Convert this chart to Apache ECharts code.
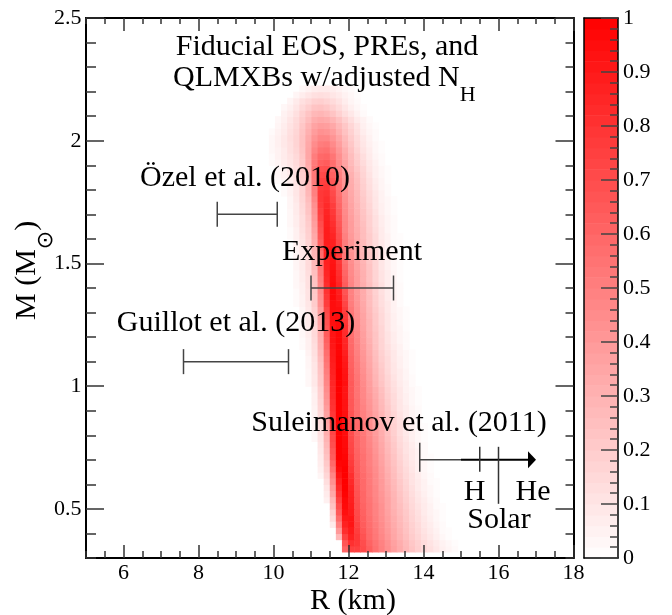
<!DOCTYPE html>
<html>
<head>
<meta charset="utf-8">
<script src="https://cdn.jsdelivr.net/npm/echarts@6.0.0/dist/echarts.min.js"></script>
<style>
  html, body { margin: 0; padding: 0; background: #fff; }
  #chart { width: 672px; height: 615px; }
</style>
</head>
<body>
<div id="chart"></div>
<script>
// Mass-radius posterior density on a regular (R, M) grid.
const rOrigin = 5.0;      // km, left edge of radius column 0
const rStep = 0.1625;     // km per radius column
const mOrigin = 0.3;      // Msun, bottom edge of mass row 0
const mStep = 0.025;      // Msun per mass row

// Each entry: [mass row, first radius column, densities in percent]
const densityRows = [
  [1, 42, [60,75,75,71,63,56,50,44,38,33,28,23,19,15,12,9,6,4,2]],
  [2, 42, [66,81,78,70,61,55,49,43,37,32,27,22,18,14,11,8,5,3,1]],
  [3, 41, [28,74,87,78,68,59,53,47,41,35,30,25,20,16,12,9,6,3,1]],
  [4, 41, [40,82,90,76,66,58,52,46,40,34,29,24,19,15,11,8,5,2,1]],
  [5, 40, [8,50,87,92,74,64,57,51,45,39,33,28,23,18,14,10,7,4,2]],
  [6, 40, [14,58,91,92,72,63,56,50,44,38,32,27,22,17,13,9,6,3,1]],
  [7, 40, [18,65,94,90,71,62,55,49,43,37,31,26,21,16,12,8,5,3,1]],
  [8, 40, [24,70,96,89,70,61,55,49,43,36,30,25,20,15,11,8,5,2,1]],
  [9, 39, [6,28,75,97,88,69,60,54,48,42,36,30,24,19,14,10,7,4,2]],
  [10, 39, [8,34,80,99,87,68,60,53,47,41,35,29,23,18,13,9,6,3,1]],
  [11, 39, [10,38,84,100,86,67,59,53,47,40,34,28,22,17,12,8,5,3,1]],
  [12, 39, [13,43,88,100,84,66,59,52,46,40,33,27,21,16,11,8,5,2,1]],
  [13, 38, [4,16,48,92,100,82,65,58,52,46,39,32,26,20,15,11,7,4,2]],
  [14, 38, [6,19,54,96,100,79,64,57,51,45,38,31,25,19,14,10,6,3,1]],
  [15, 38, [7,21,59,98,99,77,63,56,50,44,37,30,24,18,13,9,6,3,1]],
  [16, 38, [8,24,64,100,98,75,62,56,50,43,36,29,23,17,12,8,5,2,1]],
  [17, 38, [9,26,66,100,97,73,61,55,49,42,35,28,22,16,11,8,5,2]],
  [18, 38, [10,28,69,100,96,72,60,54,48,41,34,27,21,15,11,7,4,2]],
  [19, 37, [3,11,30,71,100,96,71,60,54,47,40,33,26,20,14,10,6,3,1]],
  [20, 37, [3,12,32,73,100,95,70,59,53,46,39,32,25,19,13,9,6,3,1]],
  [21, 37, [4,13,34,75,100,95,69,59,52,45,38,31,24,18,13,8,5,2,1]],
  [22, 37, [4,14,36,77,100,94,68,58,51,44,37,30,23,17,12,8,5,2]],
  [23, 37, [5,15,37,78,100,94,67,57,50,43,36,29,22,16,11,7,4,2]],
  [24, 37, [5,16,39,80,100,93,66,56,49,42,35,28,21,15,10,7,4,2]],
  [25, 37, [6,17,41,81,100,93,66,56,48,41,34,27,20,14,10,6,3,1]],
  [26, 37, [6,18,43,83,100,92,65,55,47,40,33,26,19,14,9,6,3,1]],
  [27, 37, [7,19,45,84,100,92,65,55,47,39,32,25,18,13,9,5,3,1]],
  [28, 36, [3,9,21,47,85,100,94,65,55,46,38,30,23,17,12,8,5,2]],
  [29, 36, [3,9,22,49,86,100,93,64,54,45,37,29,22,16,11,7,4,2]],
  [30, 36, [3,10,23,51,87,100,92,63,53,44,36,28,21,15,10,7,4,1]],
  [31, 36, [4,10,24,53,88,99,91,62,52,43,35,27,20,14,10,6,3,1]],
  [32, 36, [4,11,26,55,89,99,90,61,51,42,34,26,19,14,9,6,3,1]],
  [33, 36, [5,12,28,57,90,98,88,60,50,41,33,25,18,13,9,5,3,1]],
  [34, 35, [2,6,13,30,60,91,98,86,59,49,40,32,24,17,12,8,5,2]],
  [35, 35, [2,6,14,31,62,92,97,85,58,48,39,31,23,17,11,7,4,2]],
  [36, 35, [3,7,15,32,64,92,97,83,57,47,38,30,23,16,11,7,4,2]],
  [37, 35, [3,7,15,33,66,93,96,82,56,46,37,29,22,16,10,6,4,1]],
  [38, 35, [3,8,16,35,68,94,96,80,55,45,36,29,21,15,10,6,3,1]],
  [39, 35, [4,8,17,36,70,94,95,78,54,44,36,28,21,15,10,6,3,1]],
  [40, 35, [4,9,18,38,72,95,94,76,53,43,35,27,20,14,9,5,3,1]],
  [41, 34, [2,5,10,20,42,76,95,92,73,51,42,34,26,19,13,9,5,2]],
  [42, 34, [2,5,11,21,44,78,96,90,70,50,41,33,26,19,13,8,5,2]],
  [43, 34, [2,6,11,22,46,80,96,88,67,49,40,33,25,18,12,8,4,2]],
  [44, 34, [3,6,12,23,48,82,96,86,64,48,39,32,25,18,12,7,4,2]],
  [45, 34, [3,7,12,24,50,84,95,84,62,47,39,31,24,17,11,7,4,1]],
  [46, 34, [3,7,13,25,52,85,94,82,60,46,38,31,24,17,11,7,4,1]],
  [47, 34, [4,8,14,27,54,87,93,80,58,45,37,30,23,16,10,6,3,1]],
  [48, 34, [4,8,14,28,56,88,92,78,56,44,36,29,22,16,10,6,3,1]],
  [49, 34, [4,9,15,29,58,88,91,76,54,43,35,29,22,15,10,6,3,1]],
  [50, 34, [5,9,16,30,60,89,90,74,52,42,35,28,21,15,9,5,3,1]],
  [51, 34, [5,10,17,32,63,89,88,72,51,41,34,27,20,14,9,5,2,1]],
  [52, 33, [2,6,11,18,34,66,89,86,70,50,40,33,26,20,14,8,5,2,1]],
  [53, 33, [2,6,12,19,36,68,89,84,68,48,39,32,26,19,13,8,4,2]],
  [54, 33, [3,7,13,20,38,70,88,82,66,48,39,31,25,18,12,7,4,2]],
  [55, 33, [3,7,13,21,40,73,87,80,64,47,38,31,24,18,12,7,4,2]],
  [56, 33, [3,8,14,23,42,75,86,78,62,46,37,30,23,17,11,6,3,1]],
  [57, 33, [4,8,15,24,44,77,84,76,60,45,36,29,22,16,10,6,3,1]],
  [58, 33, [4,9,16,26,47,78,82,73,58,44,35,28,21,15,10,5,3,1]],
  [59, 32, [2,5,10,17,28,50,78,80,71,56,43,34,27,20,14,9,5,2]],
  [60, 32, [2,5,10,17,29,51,76,78,68,54,42,33,26,19,13,8,4,2]],
  [61, 31, [2,4,7,11,18,30,52,74,75,65,52,41,32,25,18,12,7,4,1]],
  [62, 31, [3,5,8,12,19,31,53,71,72,62,50,40,31,24,17,11,6,3,1]],
  [63, 31, [3,5,9,13,20,32,54,68,69,59,48,38,29,22,16,10,6,3,1]],
  [64, 30, [2,4,7,10,14,21,34,52,62,64,57,46,36,27,20,14,9,5,2]],
  [65, 30, [2,5,8,11,15,22,35,51,59,60,54,44,34,26,19,13,8,4,2]],
  [66, 30, [3,5,8,12,16,23,35,48,55,56,50,41,32,24,17,11,7,3,1]],
  [67, 30, [3,6,9,12,17,24,34,45,51,52,46,38,29,22,15,10,6,3,1]],
  [68, 30, [3,6,9,13,17,24,33,42,47,47,42,35,27,20,14,9,5,2]],
  [69, 30, [2,5,8,12,16,23,31,39,43,42,38,31,24,18,12,7,4,2]],
  [70, 31, [4,7,11,15,22,29,36,39,38,34,28,22,16,11,6,3,1]],
  [71, 31, [3,6,10,14,20,26,32,34,33,29,24,18,13,8,5,2]],
  [72, 32, [5,8,12,18,23,28,29,27,23,18,13,9,5,2]],
  [73, 32, [3,6,10,15,19,23,24,22,18,14,10,6,3,1]],
  [74, 33, [4,8,12,15,18,19,17,14,11,7,4,2]],
  [75, 34, [4,7,10,12,13,12,10,8,5,3,1]],
  [76, 35, [3,5,7,8,8,7,5,3,2]]
];

// Radius intervals quoted from earlier analyses, at a fixed mass
const barLabels = ['Özel et al. (2010)', 'Experiment', 'Guillot et al. (2013)'];
const barRLow = [8.5, 11.0, 7.6];
const barRHigh = [10.1, 13.2, 10.4];
const barMass = [1.7, 1.4, 1.1];

// Suleimanov et al. (2011) lower limit with atmosphere markers
const sulRLow = 13.9;
const sulRSplit = 15.0;
const sulRArrow = 17.0;
const sulMass = 0.7;
const sulMarkers = [15.5, 16.0];   // H, Solar

// Axis ticks and labels
const rMajorTicks = [6, 8, 10, 12, 14, 16, 18];
const mMajorTicks = [0.5, 1, 1.5, 2, 2.5];
const colorbarTicks = [0, 0.1, 0.2, 0.3, 0.4, 0.5, 0.6, 0.7, 0.8, 0.9, 1];
const colorbarSteps = 50;

const serif = '"Liberation Serif", serif';
const labelFont = '22px ' + serif;

const heatData = [];
densityRows.forEach(([row, col0, vals]) => {
  vals.forEach((p, k) => {
    heatData.push([rOrigin + (col0 + k) * rStep, mOrigin + row * mStep, p / 100]);
  });
});

const barData = barLabels.map((_, k) => [barRLow[k], barRHigh[k], barMass[k]]);

const colorbarData = [];
for (let k = 0; k < colorbarSteps; k++) {
  const lo = k / colorbarSteps;
  colorbarData.push([0, lo, lo + 0.5 / colorbarSteps]);
}

// text measuring for subscripts
const measureCtx = document.createElement('canvas').getContext('2d');
function textWidth(str, size) {
  measureCtx.font = size + 'px ' + serif;
  return measureCtx.measureText(str).width;
}

const tickStyle = { color: '#333', width: 1.5 };

function renderCell(params, api) {
  const r0 = api.value(0), m0 = api.value(1);
  const a = api.coord([r0, m0 + mStep]);
  const b = api.coord([r0 + rStep, m0]);
  return {
    type: 'rect',
    shape: { x: a[0], y: a[1], width: b[0] - a[0] + 0.6, height: b[1] - a[1] + 0.6 },
    style: { fill: api.visual('color') }
  };
}

function renderColorbar(params, api) {
  const lo = api.value(1);
  const a = api.coord([0, lo + 1 / colorbarSteps]);
  const b = api.coord([1, lo]);
  return {
    type: 'rect',
    shape: { x: a[0], y: a[1], width: b[0] - a[0], height: b[1] - a[1] + 0.6 },
    style: { fill: api.visual('color') }
  };
}

function renderBar(params, api) {
  const a = api.coord([api.value(0), api.value(2)]);
  const b = api.coord([api.value(1), api.value(2)]);
  const cap = 12.5;
  const st = { stroke: '#444', lineWidth: 1.5 };
  return {
    type: 'group',
    children: [
      { type: 'line', shape: { x1: a[0], y1: a[1], x2: b[0], y2: b[1] }, style: st },
      { type: 'line', shape: { x1: a[0], y1: a[1] - cap, x2: a[0], y2: a[1] + cap }, style: st },
      { type: 'line', shape: { x1: b[0], y1: b[1] - cap, x2: b[0], y2: b[1] + cap }, style: st }
    ]
  };
}

function renderLimit(params, api) {
  const a = api.coord([sulRLow, sulMass]);
  const s = api.coord([sulRSplit, sulMass]);
  const t = api.coord([sulRArrow, sulMass]);
  const h = api.coord([sulMarkers[0], sulMass]);
  const so = api.coord([sulMarkers[1], sulMass]);
  const y = a[1];
  return {
    type: 'group',
    children: [
      { type: 'line', shape: { x1: a[0], y1: y - 17, x2: a[0], y2: y + 12 }, style: { stroke: '#444', lineWidth: 1.5 } },
      { type: 'line', shape: { x1: a[0], y1: y, x2: s[0], y2: y }, style: { stroke: '#444', lineWidth: 1.5 } },
      { type: 'line', shape: { x1: s[0], y1: y, x2: t[0] - 6, y2: y }, style: { stroke: '#000', lineWidth: 2 } },
      { type: 'polygon', shape: { points: [[t[0], y], [t[0] - 8, y - 8.5], [t[0] - 8, y + 8.5]] }, style: { fill: '#000' } },
      { type: 'line', shape: { x1: h[0], y1: y - 13, x2: h[0], y2: y + 12 }, style: { stroke: '#333', lineWidth: 1.5 } },
      { type: 'line', shape: { x1: so[0], y1: y - 13, x2: so[0], y2: y + 44 }, style: { stroke: '#333', lineWidth: 1.5 } }
    ]
  };
}

// Tick labels placed at the axis positions of their values
function tickLabelRenderer(dx, dy, align) {
  return function (params, api) {
    const v = api.value(2);
    const p = api.coord([api.value(0), api.value(1)]);
    return {
      type: 'text', x: p[0] + dx, y: p[1] + dy,
      style: { text: String(v), font: labelFont, fill: '#000', align: align, verticalAlign: 'middle' }
    };
  };
}

function text(str, x, y, size, align) {
  return {
    type: 'text', x: x, y: y, z: 20,
    style: { text: str, font: size + 'px ' + serif, fill: '#000', align: align || 'center', verticalAlign: 'middle' }
  };
}

const line2 = 'QLMXBs w/adjusted N';
const line2W = textWidth(line2, 30);
const mTitle = 'M (M';
const mTitleW = textWidth(mTitle, 30);
measureCtx.font = '22px "DejaVu Sans"';
const sunW = measureCtx.measureText('\u2299').width;

const graphics = [
  text('Fiducial EOS, PREs, and', 327, 47, 30),
  text(line2, 173, 78, 30, 'left'),
  text('H', 173 + line2W, 95, 22, 'left'),
  text('Özel et al. (2010)', 245, 178, 30),
  text('Experiment', 352, 252, 30),
  text('Guillot et al. (2013)', 236, 323, 30),
  text('Suleimanov et al. (2011)', 399, 423, 30),
  text('H', 474.5, 492, 30),
  text('He', 533, 492, 30),
  text('Solar', 499, 520, 30),
  text('R (km)', 353, 601, 30),
  {
    type: 'group', x: 27, y: 320, rotation: Math.PI / 2, z: 20,
    children: [
      { type: 'text', x: 0, y: 0, style: { text: mTitle, font: '30px ' + serif, fill: '#000', align: 'left', verticalAlign: 'middle' } },
      { type: 'text', x: mTitleW, y: 19, style: { text: '\u2299', font: '22px "DejaVu Sans"', fill: '#000', align: 'left', verticalAlign: 'middle' } },
      { type: 'text', x: mTitleW + sunW, y: 0, style: { text: ')', font: '30px ' + serif, fill: '#000', align: 'left', verticalAlign: 'middle' } }
    ]
  }
];

const hidden = { axisLabel: { show: false }, splitLine: { show: false } };
function axis(base) { return Object.assign({ type: 'value', z: 10 }, hidden, base); }

const mainGrid = { left: 86, top: 18, width: 487.5, height: 540 };
const barGrid = { left: 584, top: 18, width: 34, height: 540 };
const frame = { show: true, onZero: false, lineStyle: { color: '#000', width: 2 } };
const barFrame = { show: true, onZero: false, lineStyle: { color: '#000', width: 1.5 } };

const option = {
  animation: false,
  backgroundColor: '#fff',
  grid: [
    Object.assign({ containLabel: false }, mainGrid),
    Object.assign({ containLabel: false }, mainGrid),
    Object.assign({ containLabel: false }, barGrid)
  ],
  xAxis: [
    axis({ gridIndex: 0, position: 'bottom', min: 5, max: 18, axisLine: frame,
      axisTick: { show: true, inside: true, length: 13, customValues: rMajorTicks, lineStyle: tickStyle } }),
    axis({ gridIndex: 0, position: 'top', min: 5, max: 18, axisLine: frame,
      axisTick: { show: true, inside: true, length: 13, customValues: rMajorTicks, lineStyle: tickStyle } }),
    axis({ gridIndex: 1, position: 'bottom', min: 5, max: 18, interval: 0.5, axisLine: { show: false, onZero: false },
      axisTick: { show: true, inside: true, length: 7, lineStyle: tickStyle } }),
    axis({ gridIndex: 1, position: 'top', min: 5, max: 18, interval: 0.5, axisLine: { show: false, onZero: false },
      axisTick: { show: true, inside: true, length: 6, lineStyle: tickStyle } }),
    axis({ gridIndex: 2, position: 'bottom', min: 0, max: 1, axisLine: barFrame, axisTick: { show: false } }),
    axis({ gridIndex: 2, position: 'top', min: 0, max: 1, axisLine: barFrame, axisTick: { show: false } })
  ],
  yAxis: [
    axis({ gridIndex: 0, position: 'left', min: 0.3, max: 2.5, axisLine: frame,
      axisTick: { show: true, inside: true, length: 18, customValues: mMajorTicks, lineStyle: tickStyle } }),
    axis({ gridIndex: 0, position: 'right', min: 0.3, max: 2.5, axisLine: frame,
      axisTick: { show: true, inside: true, length: 18, customValues: mMajorTicks, lineStyle: tickStyle } }),
    axis({ gridIndex: 1, position: 'left', min: 0.3, max: 2.5, interval: 0.1, axisLine: { show: false, onZero: false },
      axisTick: { show: true, inside: true, length: 10, lineStyle: tickStyle } }),
    axis({ gridIndex: 1, position: 'right', min: 0.3, max: 2.5, interval: 0.1, axisLine: { show: false, onZero: false },
      axisTick: { show: true, inside: true, length: 8, lineStyle: tickStyle } }),
    axis({ gridIndex: 2, position: 'right', min: 0, max: 1, interval: 0.1, axisLine: barFrame,
      axisTick: { show: true, inside: true, length: 17, lineStyle: { color: '#444', width: 1.5 } },
      minorTick: { show: true, splitNumber: 5, length: 8, lineStyle: { color: '#444', width: 1.5 } } }),
    axis({ gridIndex: 2, position: 'left', min: 0, max: 1, axisLine: barFrame, axisTick: { show: false } })
  ],
  visualMap: {
    type: 'continuous', show: false, min: 0, max: 1, dimension: 2,
    seriesIndex: [0, 1],
    inRange: { color: ['#ffffff', '#ff0000'] }
  },
  series: [
    { type: 'custom', name: 'density', xAxisIndex: 0, yAxisIndex: 0, z: 2,
      dimensions: ['r', 'm', 'p'], encode: { x: 0, y: 1 },
      renderItem: renderCell, data: heatData, silent: true },
    { type: 'custom', name: 'colorbar', xAxisIndex: 4, yAxisIndex: 4, z: 2,
      dimensions: ['x', 'lo', 'p'], encode: { x: 0, y: 1 },
      renderItem: renderColorbar, data: colorbarData, silent: true },
    { type: 'custom', name: 'intervals', xAxisIndex: 0, yAxisIndex: 0, z: 4,
      encode: { x: [0, 1], y: 2 },
      renderItem: renderBar, data: barData, silent: true },
    { type: 'custom', name: 'limit', xAxisIndex: 0, yAxisIndex: 0, z: 4,
      encode: { x: 0, y: 2 },
      renderItem: renderLimit, data: [[sulRLow, sulRArrow, sulMass]], silent: true },
    { type: 'custom', name: 'R ticks', xAxisIndex: 0, yAxisIndex: 0, z: 12, clip: false,
      encode: { x: 0, y: 1 }, renderItem: tickLabelRenderer(0, 15.5, 'center'),
      data: rMajorTicks.map(v => [v, 0.3, v]), silent: true },
    { type: 'custom', name: 'M ticks', xAxisIndex: 0, yAxisIndex: 0, z: 12, clip: false,
      encode: { x: 0, y: 1 }, renderItem: tickLabelRenderer(-4.5, 0, 'right'),
      data: mMajorTicks.map(v => [5, v, v]), silent: true },
    { type: 'custom', name: 'scale ticks', xAxisIndex: 4, yAxisIndex: 4, z: 12, clip: false,
      encode: { x: 0, y: 1 }, renderItem: tickLabelRenderer(5, 0, 'left'),
      data: colorbarTicks.map(v => [1, v, v]), silent: true }
  ],
  graphic: graphics
};

const chart = echarts.init(document.getElementById('chart'), null, { renderer: 'canvas' });
chart.setOption(option);
</script>
</body>
</html>
